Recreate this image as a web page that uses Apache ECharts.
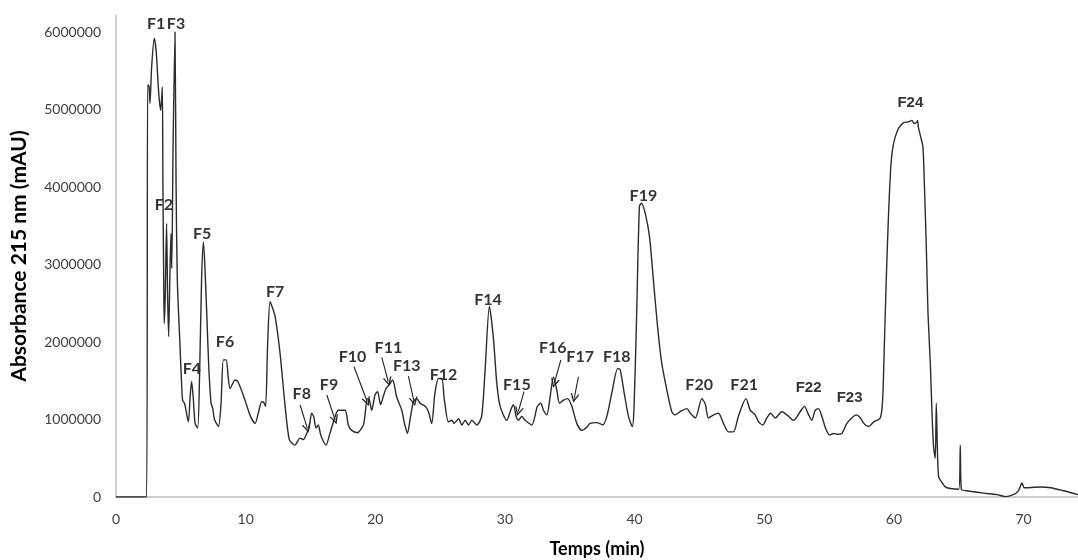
<!DOCTYPE html>
<html>
<head>
<meta charset="utf-8">
<script src="https://cdn.jsdelivr.net/npm/echarts@6/dist/echarts.min.js"></script>
<style>
html,body{margin:0;padding:0;background:#fff;}
#chart{width:1078px;height:560px;}
</style>
</head>
<body>
<div id="chart"></div>
<script>
// Retention time (min)
const times = [0,2.36,2.44,2.55,2.62,2.75,2.95,3.1,3.3,3.45,3.57,3.62,3.68,3.72,3.8,3.9,3.98,4.06,4.15,4.24,4.3,4.4,4.55,4.63,4.73,4.94,5.07,5.14,5.3,5.58,5.72,5.83,5.95,6.1,6.3,6.45,6.6,6.74,6.85,7.0,7.15,7.33,7.45,7.6,7.9,8.1,8.28,8.5,8.65,8.8,9.18,9.4,9.95,10.35,10.73,11.0,11.24,11.4,11.54,11.7,11.88,12.05,12.27,12.65,13.04,13.37,13.8,14.2,14.45,14.71,14.91,15.09,15.25,15.43,15.6,15.79,16.2,16.5,16.9,17.15,17.67,17.92,18.18,18.62,19.08,19.2,19.39,19.55,19.72,19.98,20.18,20.41,20.62,20.83,21.08,21.34,21.65,22.04,22.25,22.48,22.7,22.94,23.2,23.46,23.85,24.1,24.35,24.6,24.87,25.13,25.33,25.64,25.9,26.08,26.42,26.68,26.93,27.19,27.45,27.83,28.2,28.47,28.8,29.1,29.37,29.63,30.14,30.48,30.66,30.86,31.04,31.3,31.56,32.07,32.5,32.76,32.97,33.23,33.49,33.74,34.0,34.21,34.52,34.83,35.16,35.54,35.93,36.31,36.57,37.08,37.55,37.86,38.24,38.7,38.89,39.2,39.53,39.82,39.95,40.15,40.37,40.53,40.82,41.15,41.45,41.77,42.1,42.49,42.87,43.13,43.5,44.03,44.3,44.68,45.19,45.45,45.7,46.1,46.47,46.85,47.25,47.63,48.0,48.59,48.92,49.3,49.57,49.89,50.2,50.5,50.85,51.36,51.75,52.26,52.77,53.1,53.42,53.67,53.93,54.19,54.45,54.7,55.03,55.34,55.65,55.99,56.37,56.75,57.1,57.42,57.68,58.05,58.45,58.95,59.13,59.26,59.41,59.59,59.78,59.93,60.11,60.37,60.75,61.13,61.39,61.57,61.78,61.83,61.88,62.09,62.24,62.34,62.5,62.63,62.81,62.94,63.06,63.19,63.27,63.35,63.45,63.7,63.96,64.35,65.0,65.12,65.2,65.63,66.9,67.95,68.6,69.2,69.6,69.88,70.05,70.4,71.3,72.1,73.1,74.2];
// Absorbance at 215 nm (mAU)
const absorbance = [0,0,5320000,5300000,5080000,5550000,5920000,5750000,5200000,4990000,5290000,4000000,2800000,2240000,2600000,3530000,2600000,2070000,2800000,3400000,2950000,4500000,6000000,4090000,2800000,1940000,1420000,1250000,1200000,970000,1300000,1490000,1300000,950000,890000,1600000,2800000,3290000,3000000,2370000,1700000,1210000,1150000,1000000,910000,1200000,1770000,1770000,1550000,1400000,1510000,1490000,1250000,1050000,950000,1100000,1230000,1220000,1170000,2000000,2520000,2450000,2330000,1860000,1180000,740000,670000,760000,740000,820000,910000,1080000,1040000,890000,930000,800000,670000,820000,1040000,1120000,1120000,930000,860000,830000,930000,1050000,1270000,1250000,1120000,1320000,1360000,1190000,1300000,1400000,1450000,1510000,1290000,1120000,950000,820000,1020000,1230000,1270000,1210000,1170000,1100000,950000,1340000,1530000,1530000,1250000,970000,990000,950000,1010000,930000,990000,930000,990000,930000,1040000,1640000,2460000,2070000,1470000,1170000,990000,1140000,1190000,1040000,990000,1040000,990000,930000,1170000,1210000,1120000,1060000,1300000,1550000,1380000,1210000,1250000,1270000,1170000,950000,860000,900000,950000,960000,930000,1040000,1340000,1660000,1640000,1340000,1040000,910000,1130000,2300000,3750000,3790000,3660000,3360000,2800000,2200000,1720000,1380000,1100000,1060000,1100000,1140000,1080000,1020000,1270000,1200000,1020000,1060000,1080000,950000,840000,840000,1040000,1270000,1120000,1060000,970000,930000,1020000,1080000,1020000,1100000,1060000,990000,1100000,1170000,1060000,990000,1120000,1140000,1040000,900000,800000,820000,810000,820000,950000,1020000,1060000,1020000,950000,910000,970000,1020000,1250000,1940000,2800000,3660000,4310000,4520000,4650000,4760000,4830000,4840000,4860000,4820000,4840000,4860000,4780000,4630000,4520000,4090000,3230000,2370000,1720000,1080000,650000,500000,1210000,650000,260000,190000,130000,110000,100000,670000,100000,80000,50000,30000,5000,30000,80000,180000,120000,120000,130000,120000,80000,30000];

// Fraction labels and their positions (time, absorbance)
const fracNames = ['F1','F2','F3','F4','F5','F6','F7','F8','F9','F10','F11','F12','F13','F14','F15','F16','F17','F18','F19','F20','F21','F22','F23','F24'];
const fracT = [3.09,3.70,4.63,5.86,6.64,8.41,12.27,14.33,16.43,18.24,21.01,25.26,22.43,28.70,30.92,33.69,35.80,38.63,40.68,44.98,48.45,53.42,56.58,61.27];
const fracV = [6100000,3770000,6100000,1660000,3390000,2000000,2650000,1330000,1450000,1810000,1930000,1570000,1690000,2550000,1450000,1930000,1810000,1810000,3890000,1450000,1450000,1410000,1280000,5080000];

// Arrows (start time, start abs, end time, end abs)
const arrowNames = ['F8','F9','F10','F11','F13','F15','F16','F17'];
const arrowT0 = [14.20,16.26,18.36,20.50,22.55,31.47,34.31,35.67];
const arrowV0 = [1187000,1316000,1681000,1803000,1561000,1359000,1768000,1552000];
const arrowT1 = [14.76,16.90,19.38,21.00,22.99,31.03,33.80,35.34];
const arrowV1 = [886000,994000,1230000,1488000,1230000,1101000,1467000,1274000];

const xTicks = [0,10,20,30,40,50,60,70];
const yTicks = [0,1000000,2000000,3000000,4000000,5000000,6000000];

const lineData = times.map((t,i)=>[t,absorbance[i]]);
const bigLabels = ['F22','F23','F24'];
const labelData = fracNames.map((n,i)=>({
  value:[fracT[i],fracV[i]], name:n,
  label: bigLabels.includes(n) ? {fontFamily:'Liberation Sans', fontSize:15} : {}
}));
const arrowData = arrowNames.map((n,i)=>[{coord:[arrowT0[i],arrowV0[i]]},{coord:[arrowT1[i],arrowV1[i]]}]);

const chevron = 'path://M5,0 L10,10 L8.4,10 L5,3.2 L1.6,10 L0,10 Z';

const chart = echarts.init(document.getElementById('chart'));
chart.setOption({
  animation:false,
  backgroundColor:'#ffffff',
  grid:{left:116,right:0,top:15,bottom:63,containLabel:false,outerBoundsMode:'none'},
  xAxis:{
    type:'value', min:0, max:74.2, interval:10,
    name:'Temps (min)', nameLocation:'middle', nameGap:43,
    nameTextStyle:{fontFamily:'Lato', fontWeight:'bold', fontSize:18, color:'#000'},
    axisLine:{show:true, onZero:false, lineStyle:{color:'#bfbfbf', width:1.5}},
    axisTick:{show:false},
    splitLine:{show:false},
    axisLabel:{showMaxLabel:false, margin:15, fontFamily:'Lato', fontSize:14, color:'#404040',
      formatter:v=> xTicks.includes(v) ? String(v) : ''}
  },
  yAxis:{
    type:'value', min:0, max:6220000, interval:1000000,
    name:'Absorbance 215 nm (mAU)', nameLocation:'middle', nameGap:86, nameRotate:90,
    nameTextStyle:{fontFamily:'Lato', fontWeight:'bold', fontSize:21, color:'#000'},
    axisLine:{show:true, lineStyle:{color:'#bfbfbf', width:1.5}},
    axisTick:{show:false},
    splitLine:{show:false},
    axisLabel:{showMaxLabel:false, margin:15, fontFamily:'Lato', fontSize:14, color:'#404040',
      formatter:v=> yTicks.includes(v) ? String(v) : ''}
  },
  series:[
    {
      type:'line', data:lineData, showSymbol:false, symbol:'none', smooth:0.25,
      lineStyle:{color:'#2b2b2b', width:1.4},
      silent:true,
      markLine:{
        silent:true, symbol:['none',chevron], symbolSize:[9,9],
        label:{show:false},
        lineStyle:{color:'#222', width:1.1, type:'solid'},
        data:arrowData
      }
    },
    {
      type:'scatter', data:labelData, symbolSize:0.1,
      itemStyle:{color:'rgba(0,0,0,0)'}, silent:true,
      label:{show:true, position:'inside', formatter:p=>p.name,
        fontFamily:'Lato', fontWeight:'bold', fontSize:16, color:'#000'}
    }
  ]
});
</script>
</body>
</html>
